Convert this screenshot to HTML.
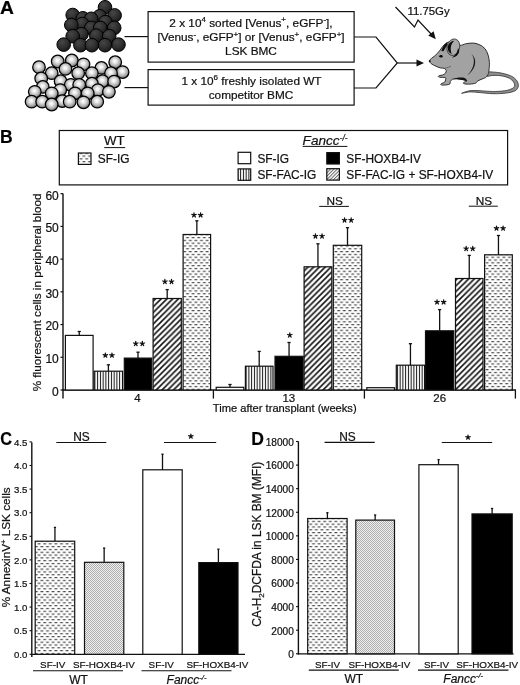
<!DOCTYPE html>
<html><head><meta charset="utf-8"><title>Figure</title>
<style>
html,body{margin:0;padding:0;background:#fff;width:520px;height:685px;overflow:hidden}
svg{display:block;filter:grayscale(1)}
text{font-family:"Liberation Sans", sans-serif;fill:#111;stroke:#111;stroke-width:0.22px}
</style></head><body>
<svg width="520" height="685" viewBox="0 0 520 685">
<defs>
<radialGradient id="gd" cx="0.38" cy="0.32" r="0.7">
 <stop offset="0" stop-color="#464646"/><stop offset="0.6" stop-color="#2e2e2e"/><stop offset="1" stop-color="#181818"/>
</radialGradient>
<radialGradient id="gw" cx="0.47" cy="0.42" r="0.62">
 <stop offset="0" stop-color="#ffffff"/><stop offset="0.2" stop-color="#f0f0f0"/><stop offset="0.6" stop-color="#b4b4b4"/><stop offset="0.9" stop-color="#6e6e6e"/><stop offset="1" stop-color="#555"/>
</radialGradient>
<pattern id="pv" patternUnits="userSpaceOnUse" width="2.75" height="10">
 <rect width="2.75" height="10" fill="#fff"/><rect x="0.9" width="1" height="10" fill="#111"/>
</pattern>
<pattern id="pd" patternUnits="userSpaceOnUse" width="5.75" height="5.75">
 <rect width="5.75" height="5.75" fill="#fff"/>
 <path d="M-1.4375,7.1875 L7.1875,-1.4375 M-1.4375,1.4375 L1.4375,-1.4375 M4.3125,7.1875 L7.1875,4.3125" stroke="#111" stroke-width="1.55"/>
</pattern>
<pattern id="pdash" patternUnits="userSpaceOnUse" width="5.6" height="5.62">
 <rect width="5.6" height="5.62" fill="#fff"/>
 <rect x="1.3" y="1" width="2.8" height="1.1" fill="#3c3c3c"/>
 <rect x="4.1" y="3.81" width="2.8" height="1.1" fill="#3c3c3c"/>
 <rect x="-1.5" y="3.81" width="2.8" height="1.1" fill="#3c3c3c"/>
</pattern>
<pattern id="pchk" patternUnits="userSpaceOnUse" width="2" height="2">
 <rect width="2" height="2" fill="#f0f0f0"/><rect width="1" height="1" fill="#adadad"/><rect x="1" y="1" width="1" height="1" fill="#adadad"/>
</pattern>
<pattern id="phl" patternUnits="userSpaceOnUse" width="2.4" height="2.4" patternTransform="rotate(45)">
 <rect width="2.4" height="2.4" fill="#fff"/><rect width="1" height="2.4" fill="#666"/>
</pattern>
</defs>

<text transform="translate(0,13.8) scale(1.1,1)" font-size="17.5" font-weight="bold" style="fill:#000">A</text>
<text transform="translate(0,142.6) scale(1.0,1)" font-size="17.5" font-weight="bold" style="fill:#000">B</text>
<text transform="translate(0.2,444.6) scale(0.93,1)" font-size="17.5" font-weight="bold" style="fill:#000">C</text>
<text transform="translate(251.3,445.0) scale(1.0,1)" font-size="17.5" font-weight="bold" style="fill:#000">D</text>
<circle cx="105" cy="7.3" r="6.8" fill="url(#gd)" stroke="#000" stroke-width="1"/>
<circle cx="72.7" cy="15" r="6.8" fill="url(#gd)" stroke="#000" stroke-width="1"/>
<circle cx="114.6" cy="15.4" r="6.8" fill="url(#gd)" stroke="#000" stroke-width="1"/>
<circle cx="99.6" cy="16.3" r="6.8" fill="url(#gd)" stroke="#000" stroke-width="1"/>
<circle cx="82.9" cy="18.3" r="6.8" fill="url(#gd)" stroke="#000" stroke-width="1"/>
<circle cx="91.2" cy="18.8" r="6.8" fill="url(#gd)" stroke="#000" stroke-width="1"/>
<circle cx="105.4" cy="22.1" r="6.8" fill="url(#gd)" stroke="#000" stroke-width="1"/>
<circle cx="82.3" cy="24" r="6.8" fill="url(#gd)" stroke="#000" stroke-width="1"/>
<circle cx="71.3" cy="25" r="6.8" fill="url(#gd)" stroke="#000" stroke-width="1"/>
<circle cx="91.2" cy="27.9" r="6.8" fill="url(#gd)" stroke="#000" stroke-width="1"/>
<circle cx="100.2" cy="27.9" r="6.8" fill="url(#gd)" stroke="#000" stroke-width="1"/>
<circle cx="114.2" cy="27.9" r="6.8" fill="url(#gd)" stroke="#000" stroke-width="1"/>
<circle cx="81.5" cy="34.2" r="6.8" fill="url(#gd)" stroke="#000" stroke-width="1"/>
<circle cx="96.3" cy="35.6" r="6.8" fill="url(#gd)" stroke="#000" stroke-width="1"/>
<circle cx="72.7" cy="36.2" r="6.8" fill="url(#gd)" stroke="#000" stroke-width="1"/>
<circle cx="109.2" cy="36.2" r="6.8" fill="url(#gd)" stroke="#000" stroke-width="1"/>
<circle cx="63.7" cy="44.6" r="6.8" fill="url(#gd)" stroke="#000" stroke-width="1"/>
<circle cx="118.5" cy="44.6" r="6.8" fill="url(#gd)" stroke="#000" stroke-width="1"/>
<circle cx="80.4" cy="45.2" r="6.8" fill="url(#gd)" stroke="#000" stroke-width="1"/>
<circle cx="91.9" cy="45.2" r="6.8" fill="url(#gd)" stroke="#000" stroke-width="1"/>
<circle cx="105" cy="45.2" r="6.8" fill="url(#gd)" stroke="#000" stroke-width="1"/>
<circle cx="71.8" cy="60.5" r="6.3" fill="url(#gw)" stroke="#000" stroke-width="1.25"/>
<circle cx="57.7" cy="61.5" r="6.3" fill="url(#gw)" stroke="#000" stroke-width="1.25"/>
<circle cx="115.2" cy="62.2" r="6.3" fill="url(#gw)" stroke="#000" stroke-width="1.25"/>
<circle cx="83.5" cy="64.3" r="6.3" fill="url(#gw)" stroke="#000" stroke-width="1.25"/>
<circle cx="39" cy="67.2" r="6.3" fill="url(#gw)" stroke="#000" stroke-width="1.25"/>
<circle cx="101.4" cy="67.9" r="6.3" fill="url(#gw)" stroke="#000" stroke-width="1.25"/>
<circle cx="65.5" cy="68.9" r="6.3" fill="url(#gw)" stroke="#000" stroke-width="1.25"/>
<circle cx="122.6" cy="72.1" r="6.3" fill="url(#gw)" stroke="#000" stroke-width="1.25"/>
<circle cx="51.7" cy="73.2" r="6.3" fill="url(#gw)" stroke="#000" stroke-width="1.25"/>
<circle cx="78.2" cy="73.2" r="6.3" fill="url(#gw)" stroke="#000" stroke-width="1.25"/>
<circle cx="91.9" cy="73.2" r="6.3" fill="url(#gw)" stroke="#000" stroke-width="1.25"/>
<circle cx="111" cy="73.2" r="6.3" fill="url(#gw)" stroke="#000" stroke-width="1.25"/>
<circle cx="41.2" cy="78.4" r="6.3" fill="url(#gw)" stroke="#000" stroke-width="1.25"/>
<circle cx="60.6" cy="81.2" r="6.3" fill="url(#gw)" stroke="#000" stroke-width="1.25"/>
<circle cx="102.5" cy="81.2" r="6.3" fill="url(#gw)" stroke="#000" stroke-width="1.25"/>
<circle cx="114.1" cy="81.6" r="6.3" fill="url(#gw)" stroke="#000" stroke-width="1.25"/>
<circle cx="91.9" cy="83.7" r="6.3" fill="url(#gw)" stroke="#000" stroke-width="1.25"/>
<circle cx="70.8" cy="84.8" r="6.3" fill="url(#gw)" stroke="#000" stroke-width="1.25"/>
<circle cx="79.2" cy="84.8" r="6.3" fill="url(#gw)" stroke="#000" stroke-width="1.25"/>
<circle cx="42.8" cy="86.9" r="6.3" fill="url(#gw)" stroke="#000" stroke-width="1.25"/>
<circle cx="60.2" cy="90.1" r="6.3" fill="url(#gw)" stroke="#000" stroke-width="1.25"/>
<circle cx="97.9" cy="90.1" r="6.3" fill="url(#gw)" stroke="#000" stroke-width="1.25"/>
<circle cx="34.8" cy="91.8" r="6.3" fill="url(#gw)" stroke="#000" stroke-width="1.25"/>
<circle cx="108.9" cy="91.8" r="6.3" fill="url(#gw)" stroke="#000" stroke-width="1.25"/>
<circle cx="51.7" cy="93.3" r="6.3" fill="url(#gw)" stroke="#000" stroke-width="1.25"/>
<circle cx="75" cy="93.3" r="6.3" fill="url(#gw)" stroke="#000" stroke-width="1.25"/>
<circle cx="87.7" cy="93.3" r="6.3" fill="url(#gw)" stroke="#000" stroke-width="1.25"/>
<circle cx="62.3" cy="101.1" r="6.3" fill="url(#gw)" stroke="#000" stroke-width="1.25"/>
<circle cx="31.6" cy="101.7" r="6.3" fill="url(#gw)" stroke="#000" stroke-width="1.25"/>
<circle cx="42.2" cy="101.7" r="6.3" fill="url(#gw)" stroke="#000" stroke-width="1.25"/>
<circle cx="69.7" cy="101.7" r="6.3" fill="url(#gw)" stroke="#000" stroke-width="1.25"/>
<circle cx="97.2" cy="101.7" r="6.3" fill="url(#gw)" stroke="#000" stroke-width="1.25"/>
<circle cx="83.5" cy="102.3" r="6.3" fill="url(#gw)" stroke="#000" stroke-width="1.25"/>
<circle cx="51.7" cy="104.5" r="6.3" fill="url(#gw)" stroke="#000" stroke-width="1.25"/>
<line x1="124.5" y1="36.6" x2="148" y2="36.6" stroke="#111" stroke-width="1.2"/>
<line x1="124.5" y1="87.6" x2="148" y2="87.6" stroke="#111" stroke-width="1.2"/>
<rect x="148.1" y="11.6" width="206" height="50.5" fill="none" stroke="#111" stroke-width="1.2"/>
<rect x="148.1" y="69.6" width="206" height="35.5" fill="none" stroke="#111" stroke-width="1.2"/>
<text x="251" y="26.7" font-size="11.8" text-anchor="middle" font-weight="normal" font-style="normal" >2 x 10<tspan font-size="8" dy="-4.5">4</tspan><tspan dy="4.5"> sorted [Venus</tspan><tspan font-size="8" dy="-4.5">+</tspan><tspan dy="4.5">, eGFP</tspan><tspan font-size="8" dy="-4.5">-</tspan><tspan dy="4.5">],</tspan></text>
<text x="251" y="41.2" font-size="11.8" text-anchor="middle" font-weight="normal" font-style="normal" >[Venus<tspan font-size="8" dy="-4.5">-</tspan><tspan dy="4.5">, eGFP</tspan><tspan font-size="8" dy="-4.5">+</tspan><tspan dy="4.5">] or [Venus</tspan><tspan font-size="8" dy="-4.5">+</tspan><tspan dy="4.5">, eGFP</tspan><tspan font-size="8" dy="-4.5">+</tspan><tspan dy="4.5">]</tspan></text>
<text x="251" y="55" font-size="11.8" text-anchor="middle" font-weight="normal" font-style="normal" >LSK BMC</text>
<text x="251.5" y="84.6" font-size="11.8" text-anchor="middle" font-weight="normal" font-style="normal" >1 x 10<tspan font-size="8" dy="-4.5">6</tspan><tspan dy="4.5"> freshly isolated WT</tspan></text>
<text x="251" y="99.1" font-size="11.8" text-anchor="middle" font-weight="normal" font-style="normal" >competitor BMC</text>
<polyline points="354.2,37 376,37 397.3,63 376,88 354.2,88" fill="none" stroke="#111" stroke-width="1.2"/>
<line x1="397.3" y1="63" x2="419" y2="63" stroke="#111" stroke-width="1.2"/>
<path d="M424,63 L416.5,59.5 L416.5,66.5 Z" fill="#111"/>
<polyline points="395.5,7 414.5,27 418,20 432,35" fill="none" stroke="#111" stroke-width="1.2"/>
<path d="M435.8,39.2 L428.2,35.6 L433.6,31.2 Z" fill="#111"/>
<text x="407.4" y="15.0" font-size="11.4" text-anchor="start" font-weight="normal" font-style="normal" >11.75Gy</text>
<g id="mouse" stroke-linejoin="round">
<path d="M486.00,72.40 C486.92,71.70 489.75,71.85 492.50,72.00 C495.25,72.15 499.33,72.60 502.50,73.30 C505.67,74.00 509.12,74.97 511.50,76.20 C513.88,77.43 515.67,79.03 516.80,80.70 C517.93,82.37 518.57,84.53 518.30,86.20 C518.03,87.87 517.25,89.55 515.20,90.70 C513.15,91.85 509.70,92.60 506.00,93.10 C502.30,93.60 497.33,93.78 493.00,93.70 C488.67,93.62 483.83,92.90 480.00,92.60 C476.17,92.30 473.07,91.78 470.00,91.90 C466.93,92.02 461.60,93.50 461.60,93.30 C461.60,93.10 466.93,91.13 470.00,90.70 C473.07,90.27 476.25,90.57 480.00,90.70 C483.75,90.83 488.42,91.48 492.50,91.50 C496.58,91.52 501.23,91.28 504.50,90.80 C507.77,90.32 510.42,89.43 512.10,88.60 C513.78,87.77 514.37,86.92 514.60,85.80 C514.83,84.68 514.37,83.15 513.50,81.90 C512.63,80.65 511.32,79.30 509.40,78.30 C507.48,77.30 504.73,76.38 502.00,75.90 C499.27,75.42 495.50,75.35 493.00,75.40 C490.50,75.45 488.17,76.70 487.00,76.20 C485.83,75.70 485.08,73.10 486.00,72.40 Z" fill="#8e8e8e" stroke="#2a2a2a" stroke-width="0.75"/>
<path d="M429.30,60.80 C429.42,59.98 430.62,59.20 431.50,58.40 C432.38,57.60 433.58,56.87 434.60,56.00 C435.62,55.13 436.67,54.20 437.60,53.20 C438.53,52.20 439.37,51.10 440.20,50.00 C441.03,48.90 441.70,47.67 442.60,46.60 C443.50,45.53 444.53,44.38 445.60,43.60 C446.67,42.82 447.43,42.23 449.00,41.90 C450.57,41.57 453.17,41.03 455.00,41.60 C456.83,42.17 458.13,44.95 460.00,45.30 C461.87,45.65 463.92,44.07 466.20,43.70 C468.48,43.33 471.40,42.88 473.70,43.10 C476.00,43.32 478.12,44.07 480.00,45.00 C481.88,45.93 483.65,47.03 485.00,48.70 C486.35,50.37 487.37,52.70 488.10,55.00 C488.83,57.30 489.25,60.00 489.40,62.50 C489.55,65.00 489.23,68.00 489.00,70.00 C488.77,72.00 488.58,73.23 488.00,74.50 C487.42,75.77 486.67,76.78 485.50,77.60 C484.33,78.42 482.33,78.80 481.00,79.40 C479.67,80.00 478.42,80.57 477.50,81.20 C476.58,81.83 476.75,82.72 475.50,83.20 C474.25,83.68 471.75,83.98 470.00,84.10 C468.25,84.22 466.12,84.07 465.00,83.90 C463.88,83.73 463.37,83.43 463.30,83.10 C463.23,82.77 463.98,82.27 464.60,81.90 C465.22,81.53 467.43,81.32 467.00,80.90 C466.57,80.48 463.67,79.78 462.00,79.40 C460.33,79.02 458.58,78.62 457.00,78.60 C455.42,78.58 453.62,78.82 452.50,79.30 C451.38,79.78 450.72,80.75 450.30,81.50 C449.88,82.25 450.55,83.25 450.00,83.80 C449.45,84.35 448.17,84.58 447.00,84.80 C445.83,85.02 444.03,85.13 443.00,85.10 C441.97,85.07 441.03,84.87 440.80,84.60 C440.57,84.33 441.00,83.87 441.60,83.50 C442.20,83.13 443.73,83.02 444.40,82.40 C445.07,81.78 445.43,80.60 445.60,79.80 C445.77,79.00 445.92,78.00 445.40,77.60 C444.88,77.20 443.47,77.47 442.50,77.40 C441.53,77.33 440.30,77.37 439.60,77.20 C438.90,77.03 438.30,76.68 438.30,76.40 C438.30,76.12 438.88,75.73 439.60,75.50 C440.32,75.27 441.63,75.38 442.60,75.00 C443.57,74.62 444.80,73.95 445.40,73.20 C446.00,72.45 446.40,71.30 446.20,70.50 C446.00,69.70 445.18,68.83 444.20,68.40 C443.22,67.97 441.50,68.18 440.30,67.90 C439.10,67.62 438.13,67.18 437.00,66.70 C435.87,66.22 434.53,65.57 433.50,65.00 C432.47,64.43 431.50,64.00 430.80,63.30 C430.10,62.60 429.18,61.62 429.30,60.80 Z" fill="#a2a2a2" stroke="#1e1e1e" stroke-width="0.9"/>
<path d="M441.3,50.9 C442.3,47.6 444.1,44.8 446.8,42.6 L447.9,44.6 C446.2,46.6 444.7,48.9 443.5,51.3 Z" fill="#111"/>
<ellipse cx="453.3" cy="47.2" rx="6.3" ry="8.4" transform="rotate(15 453.3 47.2)" fill="#aaa" stroke="#333" stroke-width="0.8"/>
<path d="M454.2,40.8 C450.6,41.4 447.9,44.2 447.7,47.6 C447.6,50.8 449.1,53.2 452,54.2 C450.9,52.1 450.5,49.8 450.8,47.4 C451.1,44.8 452.3,42.6 454.2,40.8 Z" fill="#0a0a0a"/>
<path d="M458.0,48.0 C457.8,51.5 456.0,55 451.8,57.8 C455.6,57.2 458.0,55.0 459.0,52.2 C459.4,50.8 459.0,49.2 458.0,48.0 Z" fill="#0a0a0a"/>
<path d="M471.3,53.8 C474.4,57.5 474.6,63 472.6,67.6 C471,71.5 469,73.5 467.3,75.2 C470.6,73.2 473.2,70 474.6,66 C476,61.5 475,57 471.3,53.8 Z" fill="#1a1a1a"/>
<path d="M452.8,79.2 C456,77.5 460,77.2 463,77.6 C465,78 466.5,79 467,80.9 C463,79.6 458,79.3 452.8,79.2 Z" fill="#111"/>
<path d="M444.5,68.2 C447,67.8 449.5,67.1 451,66" fill="none" stroke="#444" stroke-width="0.6"/>
<ellipse cx="441" cy="56.3" rx="1.7" ry="1.2" fill="#000"/>
<circle cx="429.9" cy="61.1" r="0.9" fill="#000"/>
</g>
<rect x="59.3" y="130.5" width="448.3" height="54.4" fill="none" stroke="#111" stroke-width="1.2"/>
<text x="103.9" y="145.3" font-size="13.3" text-anchor="start" font-weight="normal" font-style="normal" >WT</text>
<line x1="104.2" y1="147.6" x2="125.2" y2="147.6" stroke="#111" stroke-width="1"/>
<rect x="78.4" y="153" width="12.6" height="11.4" fill="url(#pdash)" stroke="#111" stroke-width="1.2"/>
<text x="97.8" y="163.2" font-size="11.9" text-anchor="start" font-weight="normal" font-style="normal" >SF-IG</text>
<text x="302.6" y="144.6" font-size="13.6" text-anchor="start" font-weight="normal" font-style="italic" >Fancc<tspan font-size="8.3" dy="-3.4">-/-</tspan></text>
<line x1="302.6" y1="146.4" x2="347.4" y2="146.4" stroke="#111" stroke-width="1"/>
<rect x="238.1" y="152.3" width="12.6" height="11.4" fill="#fff" stroke="#111" stroke-width="1.2"/>
<rect x="238.1" y="168.9" width="12.6" height="11.4" fill="url(#pv)" stroke="#111" stroke-width="1.2"/>
<rect x="326.8" y="152.6" width="12.6" height="11.4" fill="#000" stroke="#111" stroke-width="1.2"/>
<rect x="326.8" y="168.7" width="12.6" height="11.4" fill="url(#phl)" stroke="#111" stroke-width="1.2"/>
<text x="257.4" y="162.5" font-size="11.9" text-anchor="start" font-weight="normal" font-style="normal" >SF-IG</text>
<text x="257.4" y="178.8" font-size="11.9" text-anchor="start" font-weight="normal" font-style="normal" >SF-FAC-IG</text>
<text x="346.3" y="162.5" font-size="11.9" text-anchor="start" font-weight="normal" font-style="normal" >SF-HOXB4-IV</text>
<text x="346.3" y="178.8" font-size="11.9" text-anchor="start" font-weight="normal" font-style="normal" >SF-FAC-IG + SF-HOXB4-IV</text>
<line x1="63" y1="193.6" x2="63" y2="398.6" stroke="#111" stroke-width="1.4"/>
<line x1="60.5" y1="390.0" x2="63" y2="390.0" stroke="#111" stroke-width="1.2"/>
<text x="58.8" y="395.9" font-size="12" text-anchor="end" font-weight="normal" font-style="normal" >0</text>
<line x1="60.5" y1="357.28" x2="63" y2="357.28" stroke="#111" stroke-width="1.2"/>
<text x="58.8" y="363.17999999999995" font-size="12" text-anchor="end" font-weight="normal" font-style="normal" >10</text>
<line x1="60.5" y1="324.56" x2="63" y2="324.56" stroke="#111" stroke-width="1.2"/>
<text x="58.8" y="330.46" font-size="12" text-anchor="end" font-weight="normal" font-style="normal" >20</text>
<line x1="60.5" y1="291.84000000000003" x2="63" y2="291.84000000000003" stroke="#111" stroke-width="1.2"/>
<text x="58.8" y="297.74" font-size="12" text-anchor="end" font-weight="normal" font-style="normal" >30</text>
<line x1="60.5" y1="259.12" x2="63" y2="259.12" stroke="#111" stroke-width="1.2"/>
<text x="58.8" y="265.02" font-size="12" text-anchor="end" font-weight="normal" font-style="normal" >40</text>
<line x1="60.5" y1="226.4" x2="63" y2="226.4" stroke="#111" stroke-width="1.2"/>
<text x="58.8" y="232.3" font-size="12" text-anchor="end" font-weight="normal" font-style="normal" >50</text>
<line x1="60.5" y1="193.68" x2="63" y2="193.68" stroke="#111" stroke-width="1.2"/>
<text x="58.8" y="199.58" font-size="12" text-anchor="end" font-weight="normal" font-style="normal" >60</text>
<line x1="62.3" y1="390.0" x2="516" y2="390.0" stroke="#111" stroke-width="1.3"/>
<line x1="213.4" y1="390.0" x2="213.4" y2="398.6" stroke="#111" stroke-width="1.3"/>
<line x1="364.4" y1="390.0" x2="364.4" y2="398.6" stroke="#111" stroke-width="1.3"/>
<line x1="515.4" y1="390.0" x2="515.4" y2="398.6" stroke="#111" stroke-width="1.3"/>
<text x="137.4" y="401.6" font-size="11.5" text-anchor="middle" font-weight="normal" font-style="normal" >4</text>
<text x="288.8" y="401.6" font-size="11.5" text-anchor="middle" font-weight="normal" font-style="normal" >13</text>
<text x="439.7" y="401.6" font-size="11.5" text-anchor="middle" font-weight="normal" font-style="normal" >26</text>
<text x="212.8" y="412" font-size="11.15" text-anchor="start" font-weight="normal" font-style="normal" >Time after transplant (weeks)</text>
<text transform="translate(41.2,292.4) rotate(-90)" font-size="11.75" text-anchor="middle">% fluorescent cells in peripheral blood</text>
<rect x="65.4" y="335.4" width="27.69999999999999" height="54.60000000000002" fill="#fff" stroke="#111" stroke-width="1.2"/>
<line x1="79.25" y1="335.4" x2="79.25" y2="331.5" stroke="#111" stroke-width="1.3"/>
<line x1="77.65" y1="331.5" x2="80.85" y2="331.5" stroke="#111" stroke-width="1.3"/>
<rect x="94.2" y="371.2" width="28.39999999999999" height="18.80000000000001" fill="url(#pv)" stroke="#111" stroke-width="1.2"/>
<line x1="108.4" y1="371.2" x2="108.4" y2="364.8" stroke="#111" stroke-width="1.3"/>
<line x1="106.80000000000001" y1="364.8" x2="110.0" y2="364.8" stroke="#111" stroke-width="1.3"/>
<path d="M105.35,355.31 L105.35,353.01 M105.35,355.31 L107.54,354.60 M105.35,355.31 L106.70,357.18 M105.35,355.31 L104.00,357.18 M105.35,355.31 L103.16,354.60 " stroke="#111" stroke-width="1.25" stroke-linecap="round" fill="none"/>
<circle cx="105.35" cy="355.31" r="1.05" fill="#111"/>
<path d="M111.95,355.31 L111.95,353.01 M111.95,355.31 L114.14,354.60 M111.95,355.31 L113.30,357.18 M111.95,355.31 L110.60,357.18 M111.95,355.31 L109.76,354.60 " stroke="#111" stroke-width="1.25" stroke-linecap="round" fill="none"/>
<circle cx="111.95" cy="355.31" r="1.05" fill="#111"/>
<rect x="124.3" y="358.1" width="27.39999999999999" height="31.899999999999977" fill="#000" stroke="#111" stroke-width="1.2"/>
<line x1="138.0" y1="358.1" x2="138.0" y2="352.2" stroke="#111" stroke-width="1.3"/>
<line x1="136.4" y1="352.2" x2="139.6" y2="352.2" stroke="#111" stroke-width="1.3"/>
<path d="M135.75,343.71 L135.75,341.41 M135.75,343.71 L137.94,343.00 M135.75,343.71 L137.10,345.57 M135.75,343.71 L134.40,345.57 M135.75,343.71 L133.56,343.00 " stroke="#111" stroke-width="1.25" stroke-linecap="round" fill="none"/>
<circle cx="135.75" cy="343.71" r="1.05" fill="#111"/>
<path d="M142.35,343.71 L142.35,341.41 M142.35,343.71 L144.54,343.00 M142.35,343.71 L143.70,345.57 M142.35,343.71 L141.00,345.57 M142.35,343.71 L140.16,343.00 " stroke="#111" stroke-width="1.25" stroke-linecap="round" fill="none"/>
<circle cx="142.35" cy="343.71" r="1.05" fill="#111"/>
<rect x="153.1" y="298.5" width="28.200000000000017" height="91.5" fill="url(#pd)" stroke="#111" stroke-width="1.2"/>
<line x1="167.2" y1="298.5" x2="167.2" y2="289.6" stroke="#111" stroke-width="1.3"/>
<line x1="165.6" y1="289.6" x2="168.79999999999998" y2="289.6" stroke="#111" stroke-width="1.3"/>
<path d="M164.90,281.71 L164.90,279.41 M164.90,281.71 L167.09,281.00 M164.90,281.71 L166.25,283.57 M164.90,281.71 L163.55,283.57 M164.90,281.71 L162.71,281.00 " stroke="#111" stroke-width="1.25" stroke-linecap="round" fill="none"/>
<circle cx="164.90" cy="281.71" r="1.05" fill="#111"/>
<path d="M171.50,281.71 L171.50,279.41 M171.50,281.71 L173.69,281.00 M171.50,281.71 L172.85,283.57 M171.50,281.71 L170.15,283.57 M171.50,281.71 L169.31,281.00 " stroke="#111" stroke-width="1.25" stroke-linecap="round" fill="none"/>
<circle cx="171.50" cy="281.71" r="1.05" fill="#111"/>
<rect x="183.1" y="234.5" width="27.5" height="155.5" fill="url(#pdash)" stroke="#111" stroke-width="1.2"/>
<line x1="196.85" y1="234.5" x2="196.85" y2="220.8" stroke="#111" stroke-width="1.3"/>
<line x1="195.25" y1="220.8" x2="198.45" y2="220.8" stroke="#111" stroke-width="1.3"/>
<path d="M194.00,215.11 L194.00,212.81 M194.00,215.11 L196.19,214.40 M194.00,215.11 L195.35,216.97 M194.00,215.11 L192.65,216.97 M194.00,215.11 L191.81,214.40 " stroke="#111" stroke-width="1.25" stroke-linecap="round" fill="none"/>
<circle cx="194.00" cy="215.11" r="1.05" fill="#111"/>
<path d="M200.60,215.11 L200.60,212.81 M200.60,215.11 L202.79,214.40 M200.60,215.11 L201.95,216.97 M200.60,215.11 L199.25,216.97 M200.60,215.11 L198.41,214.40 " stroke="#111" stroke-width="1.25" stroke-linecap="round" fill="none"/>
<circle cx="200.60" cy="215.11" r="1.05" fill="#111"/>
<rect x="216.2" y="387.3" width="27.600000000000023" height="2.6999999999999886" fill="#fff" stroke="#111" stroke-width="1.2"/>
<line x1="230.0" y1="387.3" x2="230.0" y2="384.5" stroke="#111" stroke-width="1.3"/>
<line x1="228.4" y1="384.5" x2="231.6" y2="384.5" stroke="#111" stroke-width="1.3"/>
<rect x="245.4" y="366.2" width="27.599999999999994" height="23.80000000000001" fill="url(#pv)" stroke="#111" stroke-width="1.2"/>
<line x1="259.2" y1="366.2" x2="259.2" y2="351.4" stroke="#111" stroke-width="1.3"/>
<line x1="257.59999999999997" y1="351.4" x2="260.8" y2="351.4" stroke="#111" stroke-width="1.3"/>
<rect x="275" y="356.3" width="28.100000000000023" height="33.69999999999999" fill="#000" stroke="#111" stroke-width="1.2"/>
<line x1="289.05" y1="356.3" x2="289.05" y2="342.5" stroke="#111" stroke-width="1.3"/>
<line x1="287.45" y1="342.5" x2="290.65000000000003" y2="342.5" stroke="#111" stroke-width="1.3"/>
<path d="M289.80,335.21 L289.80,332.91 M289.80,335.21 L291.99,334.50 M289.80,335.21 L291.15,337.07 M289.80,335.21 L288.45,337.07 M289.80,335.21 L287.61,334.50 " stroke="#111" stroke-width="1.25" stroke-linecap="round" fill="none"/>
<circle cx="289.80" cy="335.21" r="1.05" fill="#111"/>
<rect x="304.1" y="266.8" width="27.69999999999999" height="123.19999999999999" fill="url(#pd)" stroke="#111" stroke-width="1.2"/>
<line x1="317.95000000000005" y1="266.8" x2="317.95000000000005" y2="243.8" stroke="#111" stroke-width="1.3"/>
<line x1="316.35" y1="243.8" x2="319.55000000000007" y2="243.8" stroke="#111" stroke-width="1.3"/>
<path d="M315.45,236.21 L315.45,233.91 M315.45,236.21 L317.64,235.50 M315.45,236.21 L316.80,238.07 M315.45,236.21 L314.10,238.07 M315.45,236.21 L313.26,235.50 " stroke="#111" stroke-width="1.25" stroke-linecap="round" fill="none"/>
<circle cx="315.45" cy="236.21" r="1.05" fill="#111"/>
<path d="M322.05,236.21 L322.05,233.91 M322.05,236.21 L324.24,235.50 M322.05,236.21 L323.40,238.07 M322.05,236.21 L320.70,238.07 M322.05,236.21 L319.86,235.50 " stroke="#111" stroke-width="1.25" stroke-linecap="round" fill="none"/>
<circle cx="322.05" cy="236.21" r="1.05" fill="#111"/>
<rect x="333.3" y="245.3" width="28.399999999999977" height="144.7" fill="url(#pdash)" stroke="#111" stroke-width="1.2"/>
<line x1="347.5" y1="245.3" x2="347.5" y2="227.7" stroke="#111" stroke-width="1.3"/>
<line x1="345.9" y1="227.7" x2="349.1" y2="227.7" stroke="#111" stroke-width="1.3"/>
<path d="M344.55,220.21 L344.55,217.91 M344.55,220.21 L346.74,219.50 M344.55,220.21 L345.90,222.07 M344.55,220.21 L343.20,222.07 M344.55,220.21 L342.36,219.50 " stroke="#111" stroke-width="1.25" stroke-linecap="round" fill="none"/>
<circle cx="344.55" cy="220.21" r="1.05" fill="#111"/>
<path d="M351.15,220.21 L351.15,217.91 M351.15,220.21 L353.34,219.50 M351.15,220.21 L352.50,222.07 M351.15,220.21 L349.80,222.07 M351.15,220.21 L348.96,219.50 " stroke="#111" stroke-width="1.25" stroke-linecap="round" fill="none"/>
<circle cx="351.15" cy="220.21" r="1.05" fill="#111"/>
<rect x="366.8" y="387.7" width="27.69999999999999" height="2.3000000000000114" fill="#fff" stroke="#111" stroke-width="1.2"/>
<rect x="396.3" y="365.2" width="28.30000000000001" height="24.80000000000001" fill="url(#pv)" stroke="#111" stroke-width="1.2"/>
<line x1="410.45000000000005" y1="365.2" x2="410.45000000000005" y2="343.7" stroke="#111" stroke-width="1.3"/>
<line x1="408.85" y1="343.7" x2="412.05000000000007" y2="343.7" stroke="#111" stroke-width="1.3"/>
<rect x="425.5" y="330.8" width="28.30000000000001" height="59.19999999999999" fill="#000" stroke="#111" stroke-width="1.2"/>
<line x1="439.65" y1="330.8" x2="439.65" y2="309.6" stroke="#111" stroke-width="1.3"/>
<line x1="438.04999999999995" y1="309.6" x2="441.25" y2="309.6" stroke="#111" stroke-width="1.3"/>
<path d="M437.05,302.11 L437.05,299.81 M437.05,302.11 L439.24,301.40 M437.05,302.11 L438.40,303.98 M437.05,302.11 L435.70,303.98 M437.05,302.11 L434.86,301.40 " stroke="#111" stroke-width="1.25" stroke-linecap="round" fill="none"/>
<circle cx="437.05" cy="302.11" r="1.05" fill="#111"/>
<path d="M443.65,302.11 L443.65,299.81 M443.65,302.11 L445.84,301.40 M443.65,302.11 L445.00,303.98 M443.65,302.11 L442.30,303.98 M443.65,302.11 L441.46,301.40 " stroke="#111" stroke-width="1.25" stroke-linecap="round" fill="none"/>
<circle cx="443.65" cy="302.11" r="1.05" fill="#111"/>
<rect x="455.5" y="278.5" width="27.5" height="111.5" fill="url(#pd)" stroke="#111" stroke-width="1.2"/>
<line x1="469.25" y1="278.5" x2="469.25" y2="255.4" stroke="#111" stroke-width="1.3"/>
<line x1="467.65" y1="255.4" x2="470.85" y2="255.4" stroke="#111" stroke-width="1.3"/>
<path d="M466.15,248.71 L466.15,246.41 M466.15,248.71 L468.34,248.00 M466.15,248.71 L467.50,250.57 M466.15,248.71 L464.80,250.57 M466.15,248.71 L463.96,248.00 " stroke="#111" stroke-width="1.25" stroke-linecap="round" fill="none"/>
<circle cx="466.15" cy="248.71" r="1.05" fill="#111"/>
<path d="M472.75,248.71 L472.75,246.41 M472.75,248.71 L474.94,248.00 M472.75,248.71 L474.10,250.57 M472.75,248.71 L471.40,250.57 M472.75,248.71 L470.56,248.00 " stroke="#111" stroke-width="1.25" stroke-linecap="round" fill="none"/>
<circle cx="472.75" cy="248.71" r="1.05" fill="#111"/>
<rect x="484.6" y="254.8" width="27.699999999999932" height="135.2" fill="url(#pdash)" stroke="#111" stroke-width="1.2"/>
<line x1="498.45" y1="254.8" x2="498.45" y2="235.5" stroke="#111" stroke-width="1.3"/>
<line x1="496.84999999999997" y1="235.5" x2="500.05" y2="235.5" stroke="#111" stroke-width="1.3"/>
<path d="M496.50,228.31 L496.50,226.01 M496.50,228.31 L498.69,227.60 M496.50,228.31 L497.85,230.18 M496.50,228.31 L495.15,230.18 M496.50,228.31 L494.31,227.60 " stroke="#111" stroke-width="1.25" stroke-linecap="round" fill="none"/>
<circle cx="496.50" cy="228.31" r="1.05" fill="#111"/>
<path d="M503.10,228.31 L503.10,226.01 M503.10,228.31 L505.29,227.60 M503.10,228.31 L504.45,230.18 M503.10,228.31 L501.75,230.18 M503.10,228.31 L500.91,227.60 " stroke="#111" stroke-width="1.25" stroke-linecap="round" fill="none"/>
<circle cx="503.10" cy="228.31" r="1.05" fill="#111"/>
<text x="334.6" y="205" font-size="11.8" text-anchor="middle" font-weight="normal" font-style="normal" >NS</text>
<line x1="319.2" y1="206.4" x2="348.9" y2="206.4" stroke="#111" stroke-width="1"/>
<text x="484" y="204.7" font-size="11.8" text-anchor="middle" font-weight="normal" font-style="normal" >NS</text>
<line x1="468.8" y1="206.2" x2="497.8" y2="206.2" stroke="#111" stroke-width="1"/>
<line x1="31.8" y1="442.3" x2="31.8" y2="657" stroke="#111" stroke-width="1.4"/>
<line x1="29.5" y1="654.3" x2="31.8" y2="654.3" stroke="#111" stroke-width="1.1"/>
<text x="27.3" y="658.0" font-size="9.6" text-anchor="end" font-weight="normal" font-style="normal" >0.0</text>
<line x1="29.5" y1="630.6999999999999" x2="31.8" y2="630.6999999999999" stroke="#111" stroke-width="1.1"/>
<text x="27.3" y="634.4" font-size="9.6" text-anchor="end" font-weight="normal" font-style="normal" >0.5</text>
<line x1="29.5" y1="607.0999999999999" x2="31.8" y2="607.0999999999999" stroke="#111" stroke-width="1.1"/>
<text x="27.3" y="610.8" font-size="9.6" text-anchor="end" font-weight="normal" font-style="normal" >1.0</text>
<line x1="29.5" y1="583.5" x2="31.8" y2="583.5" stroke="#111" stroke-width="1.1"/>
<text x="27.3" y="587.2" font-size="9.6" text-anchor="end" font-weight="normal" font-style="normal" >1.5</text>
<line x1="29.5" y1="559.9" x2="31.8" y2="559.9" stroke="#111" stroke-width="1.1"/>
<text x="27.3" y="563.6" font-size="9.6" text-anchor="end" font-weight="normal" font-style="normal" >2.0</text>
<line x1="29.5" y1="536.3" x2="31.8" y2="536.3" stroke="#111" stroke-width="1.1"/>
<text x="27.3" y="540.0" font-size="9.6" text-anchor="end" font-weight="normal" font-style="normal" >2.5</text>
<line x1="29.5" y1="512.6999999999999" x2="31.8" y2="512.6999999999999" stroke="#111" stroke-width="1.1"/>
<text x="27.3" y="516.4" font-size="9.6" text-anchor="end" font-weight="normal" font-style="normal" >3.0</text>
<line x1="29.5" y1="489.0999999999999" x2="31.8" y2="489.0999999999999" stroke="#111" stroke-width="1.1"/>
<text x="27.3" y="492.7999999999999" font-size="9.6" text-anchor="end" font-weight="normal" font-style="normal" >3.5</text>
<line x1="29.5" y1="465.49999999999994" x2="31.8" y2="465.49999999999994" stroke="#111" stroke-width="1.1"/>
<text x="27.3" y="469.19999999999993" font-size="9.6" text-anchor="end" font-weight="normal" font-style="normal" >4.0</text>
<line x1="29.5" y1="441.9" x2="31.8" y2="441.9" stroke="#111" stroke-width="1.1"/>
<text x="27.3" y="445.59999999999997" font-size="9.6" text-anchor="end" font-weight="normal" font-style="normal" >4.5</text>
<line x1="31.2" y1="654.3" x2="245" y2="654.3" stroke="#111" stroke-width="1.3"/>
<text transform="translate(9.7,547.3) rotate(-90)" font-size="11.75" text-anchor="middle">% AnnexinV<tspan font-size="7.5" dy="-4">+</tspan><tspan dy="4"> LSK cells</tspan></text>
<rect x="35.2" y="541.2" width="39.5" height="113.09999999999991" fill="url(#pdash)" stroke="#111" stroke-width="1.2"/>
<line x1="54.95" y1="541.2" x2="54.95" y2="527.4" stroke="#111" stroke-width="1.3"/>
<line x1="53.85" y1="527.4" x2="56.050000000000004" y2="527.4" stroke="#111" stroke-width="1.3"/>
<rect x="84.5" y="562.3" width="39.3" height="92.0" fill="url(#pchk)" stroke="#111" stroke-width="1.2"/>
<line x1="104.15" y1="562.3" x2="104.15" y2="548.1" stroke="#111" stroke-width="1.3"/>
<line x1="103.05000000000001" y1="548.1" x2="105.25" y2="548.1" stroke="#111" stroke-width="1.3"/>
<rect x="142.8" y="469.8" width="39.39999999999998" height="184.49999999999994" fill="#fff" stroke="#111" stroke-width="1.2"/>
<line x1="162.5" y1="469.8" x2="162.5" y2="454.2" stroke="#111" stroke-width="1.3"/>
<line x1="161.4" y1="454.2" x2="163.6" y2="454.2" stroke="#111" stroke-width="1.3"/>
<rect x="198.8" y="562.6" width="39.19999999999999" height="91.69999999999993" fill="#000" stroke="#111" stroke-width="1.2"/>
<line x1="218.4" y1="562.6" x2="218.4" y2="549.2" stroke="#111" stroke-width="1.3"/>
<line x1="217.3" y1="549.2" x2="219.5" y2="549.2" stroke="#111" stroke-width="1.3"/>
<line x1="56.3" y1="442.5" x2="106.3" y2="442.5" stroke="#111" stroke-width="1.2"/>
<text x="81.4" y="440.9" font-size="11.9" text-anchor="middle" font-weight="normal" font-style="normal" >NS</text>
<line x1="164" y1="442.5" x2="216.2" y2="442.5" stroke="#111" stroke-width="1.2"/>
<path d="M190.85,436.31 L190.85,434.01 M190.85,436.31 L193.04,435.60 M190.85,436.31 L192.20,438.18 M190.85,436.31 L189.50,438.18 M190.85,436.31 L188.66,435.60 " stroke="#111" stroke-width="1.25" stroke-linecap="round" fill="none"/>
<circle cx="190.85" cy="436.31" r="1.05" fill="#111"/>
<text x="52.7" y="668.4" font-size="9.85" text-anchor="middle" font-weight="normal" font-style="normal" >SF-IV</text>
<text x="103.9" y="668.4" font-size="9.85" text-anchor="middle" font-weight="normal" font-style="normal" >SF-HOXB4-IV</text>
<text x="161.2" y="668.4" font-size="9.85" text-anchor="middle" font-weight="normal" font-style="normal" >SF-IV</text>
<text x="217.4" y="668.4" font-size="9.85" text-anchor="middle" font-weight="normal" font-style="normal" >SF-HOXB4-IV</text>
<line x1="33" y1="670.8" x2="123" y2="670.8" stroke="#111" stroke-width="1.1"/>
<line x1="141.5" y1="670.8" x2="231.5" y2="670.8" stroke="#111" stroke-width="1.1"/>
<text x="78.6" y="683.8" font-size="12" text-anchor="middle" font-weight="normal" font-style="normal" >WT</text>
<text x="186.5" y="684.2" font-size="12" text-anchor="middle" font-weight="normal" font-style="italic" >Fancc<tspan font-size="7.5" dy="-4.5">-/-</tspan></text>
<line x1="298.4" y1="441.4" x2="298.4" y2="654.5" stroke="#111" stroke-width="1.4"/>
<line x1="296" y1="653.8" x2="298.4" y2="653.8" stroke="#111" stroke-width="1.1"/>
<text x="293.8" y="658.1999999999999" font-size="10.1" text-anchor="end" font-weight="normal" font-style="normal" >0</text>
<line x1="296" y1="630.2099999999999" x2="298.4" y2="630.2099999999999" stroke="#111" stroke-width="1.1"/>
<text x="293.8" y="634.6099999999999" font-size="10.1" text-anchor="end" font-weight="normal" font-style="normal" >2000</text>
<line x1="296" y1="606.62" x2="298.4" y2="606.62" stroke="#111" stroke-width="1.1"/>
<text x="293.8" y="611.02" font-size="10.1" text-anchor="end" font-weight="normal" font-style="normal" >4000</text>
<line x1="296" y1="583.03" x2="298.4" y2="583.03" stroke="#111" stroke-width="1.1"/>
<text x="293.8" y="587.43" font-size="10.1" text-anchor="end" font-weight="normal" font-style="normal" >6000</text>
<line x1="296" y1="559.4399999999999" x2="298.4" y2="559.4399999999999" stroke="#111" stroke-width="1.1"/>
<text x="293.8" y="563.8399999999999" font-size="10.1" text-anchor="end" font-weight="normal" font-style="normal" >8000</text>
<line x1="296" y1="535.8499999999999" x2="298.4" y2="535.8499999999999" stroke="#111" stroke-width="1.1"/>
<text x="293.8" y="540.2499999999999" font-size="10.1" text-anchor="end" font-weight="normal" font-style="normal" >10000</text>
<line x1="296" y1="512.26" x2="298.4" y2="512.26" stroke="#111" stroke-width="1.1"/>
<text x="293.8" y="516.66" font-size="10.1" text-anchor="end" font-weight="normal" font-style="normal" >12000</text>
<line x1="296" y1="488.66999999999996" x2="298.4" y2="488.66999999999996" stroke="#111" stroke-width="1.1"/>
<text x="293.8" y="493.06999999999994" font-size="10.1" text-anchor="end" font-weight="normal" font-style="normal" >14000</text>
<line x1="296" y1="465.0799999999999" x2="298.4" y2="465.0799999999999" stroke="#111" stroke-width="1.1"/>
<text x="293.8" y="469.4799999999999" font-size="10.1" text-anchor="end" font-weight="normal" font-style="normal" >16000</text>
<line x1="296" y1="441.48999999999995" x2="298.4" y2="441.48999999999995" stroke="#111" stroke-width="1.1"/>
<text x="293.8" y="445.88999999999993" font-size="10.1" text-anchor="end" font-weight="normal" font-style="normal" >18000</text>
<line x1="297.8" y1="653.8" x2="513.6" y2="653.8" stroke="#111" stroke-width="1.3"/>
<text transform="translate(261.3,544.3) rotate(-90)" font-size="11.9" text-anchor="middle">CA-H<tspan font-size="8" dy="3">2</tspan><tspan dy="-3">DCFDA in LSK BM (MFI)</tspan></text>
<rect x="307.7" y="518.5" width="39.400000000000034" height="135.29999999999995" fill="url(#pdash)" stroke="#111" stroke-width="1.2"/>
<line x1="327.4" y1="518.5" x2="327.4" y2="512.7" stroke="#111" stroke-width="1.3"/>
<line x1="326.29999999999995" y1="512.7" x2="328.5" y2="512.7" stroke="#111" stroke-width="1.3"/>
<rect x="355.8" y="520.1" width="38.69999999999999" height="133.69999999999993" fill="url(#pchk)" stroke="#111" stroke-width="1.2"/>
<line x1="375.15" y1="520.1" x2="375.15" y2="515" stroke="#111" stroke-width="1.3"/>
<line x1="374.04999999999995" y1="515" x2="376.25" y2="515" stroke="#111" stroke-width="1.3"/>
<rect x="418.9" y="464.7" width="39.30000000000001" height="189.09999999999997" fill="#fff" stroke="#111" stroke-width="1.2"/>
<line x1="438.54999999999995" y1="464.7" x2="438.54999999999995" y2="459.6" stroke="#111" stroke-width="1.3"/>
<line x1="437.44999999999993" y1="459.6" x2="439.65" y2="459.6" stroke="#111" stroke-width="1.3"/>
<rect x="472" y="513.9" width="40.200000000000045" height="139.89999999999998" fill="#000" stroke="#111" stroke-width="1.2"/>
<line x1="492.1" y1="513.9" x2="492.1" y2="508.5" stroke="#111" stroke-width="1.3"/>
<line x1="491.0" y1="508.5" x2="493.20000000000005" y2="508.5" stroke="#111" stroke-width="1.3"/>
<line x1="324.6" y1="442.3" x2="374.7" y2="442.3" stroke="#111" stroke-width="1.2"/>
<text x="347.5" y="440.9" font-size="11.9" text-anchor="middle" font-weight="normal" font-style="normal" >NS</text>
<line x1="441.8" y1="442.5" x2="492.2" y2="442.5" stroke="#111" stroke-width="1.2"/>
<path d="M468.00,437.31 L468.00,435.01 M468.00,437.31 L470.19,436.60 M468.00,437.31 L469.35,439.18 M468.00,437.31 L466.65,439.18 M468.00,437.31 L465.81,436.60 " stroke="#111" stroke-width="1.25" stroke-linecap="round" fill="none"/>
<circle cx="468.00" cy="437.31" r="1.05" fill="#111"/>
<text x="327.6" y="667.9" font-size="9.85" text-anchor="middle" font-weight="normal" font-style="normal" >SF-IV</text>
<text x="379.3" y="667.9" font-size="9.85" text-anchor="middle" font-weight="normal" font-style="normal" >SF-HOXB4-IV</text>
<text x="436.5" y="667.9" font-size="9.85" text-anchor="middle" font-weight="normal" font-style="normal" >SF-IV</text>
<text x="487.2" y="667.9" font-size="9.85" text-anchor="middle" font-weight="normal" font-style="normal" >SF-HOXB4-IV</text>
<line x1="308.8" y1="670.1" x2="398.8" y2="670.1" stroke="#111" stroke-width="1.1"/>
<line x1="418" y1="670.1" x2="508.5" y2="670.1" stroke="#111" stroke-width="1.1"/>
<text x="353.8" y="682.7" font-size="12" text-anchor="middle" font-weight="normal" font-style="normal" >WT</text>
<text x="463.2" y="682.5" font-size="12" text-anchor="middle" font-weight="normal" font-style="italic" >Fancc<tspan font-size="7.5" dy="-4.5">-/-</tspan></text>
</svg></body></html>
